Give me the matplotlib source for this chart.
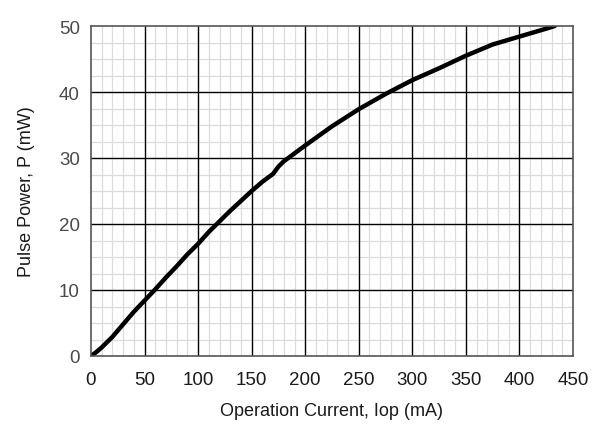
import matplotlib
matplotlib.use("Agg")
import matplotlib.pyplot as plt
from matplotlib.ticker import MultipleLocator

current = [0, 5, 10, 20, 30, 40, 50, 60, 70, 80, 90, 100, 110, 120, 130, 140, 150, 160, 170, 175, 180,
           200, 225, 250, 275, 300, 325, 350, 375, 400, 425, 433]
power = [0, 0.6, 1.3, 2.9, 4.8, 6.7, 8.4, 10.1, 11.9, 13.6, 15.4, 17.0, 18.8, 20.4, 22.0, 23.5, 25.0, 26.4, 27.6, 28.7, 29.5,
         31.9, 34.8, 37.4, 39.7, 41.8, 43.6, 45.5, 47.2, 48.4, 49.6, 50.0]

plt.rcParams['font.family'] = ['Liberation Sans', 'DejaVu Sans']
fig = plt.figure(figsize=(6.04, 4.31), dpi=100)
ax = fig.add_axes([91/604, 1-357/431, (573-91)/604, (357-27)/431])
ax.set_axisbelow(True)
ax.plot(current, power, color='black', lw=3.2, solid_capstyle='round', zorder=3)
ax.set_xlim(0, 450)
ax.set_ylim(0, 50)
ax.xaxis.set_major_locator(MultipleLocator(50))
ax.xaxis.set_minor_locator(MultipleLocator(10))
ax.yaxis.set_major_locator(MultipleLocator(10))
ax.yaxis.set_minor_locator(MultipleLocator(2.5))
ax.grid(which='minor', color='#dcdcdc', lw=0.9)
for xv in ax.get_xticks():
    if 0 < xv < 450:
        ax.axvline(xv, color='black', lw=1.0, zorder=2)
for yv in ax.get_yticks():
    if 0 < yv < 50:
        ax.axhline(yv, color='black', lw=1.0, zorder=2)
ax.tick_params(which='both', length=0, labelsize=13.5)
ax.tick_params(axis='x', pad=11, labelcolor='#1a1a1a')
ax.tick_params(axis='y', pad=8, labelcolor='#4a4a4a')
for s in ax.spines.values():
    s.set_color('#555555')
    s.set_linewidth(1.2)
    s.set_zorder(4)
ax.set_xlabel('Operation Current, Iop (mA)', fontsize=13, labelpad=10, color='#1a1a1a')
ax.set_ylabel('Pulse Power, P (mW)', fontsize=13, labelpad=17, color='#1a1a1a')
fig.savefig('out.png', dpi=100)
